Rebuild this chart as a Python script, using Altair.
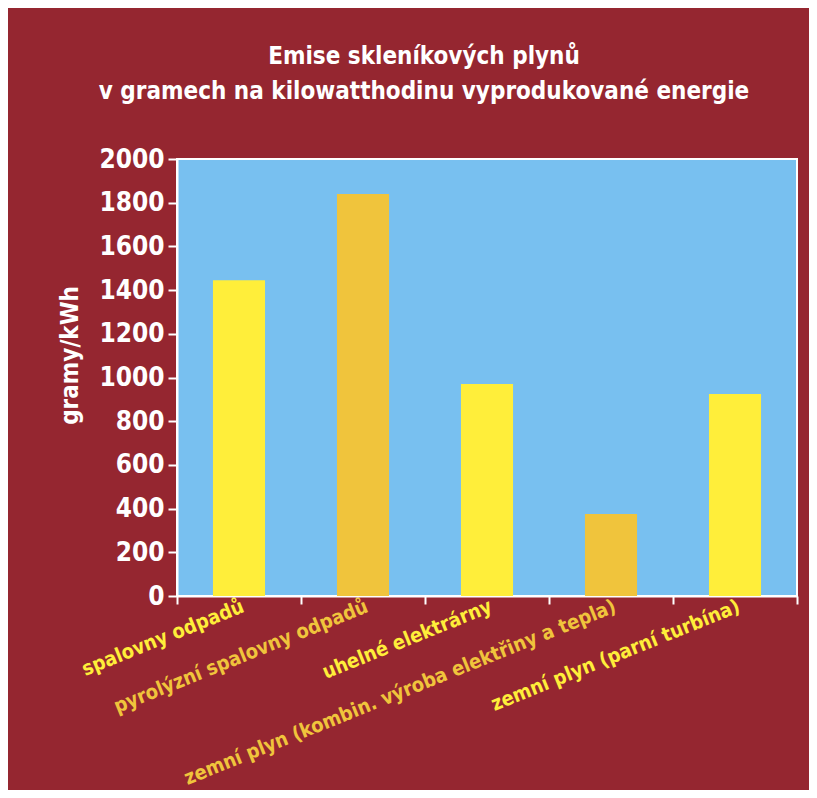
import altair as alt
import pandas as pd

categories = [
    "spalovny odpadů",
    "pyrolýzní spalovny odpadů",
    "uhelné elektrárny",
    "zemní plyn (kombin. výroba elektřiny a tepla)",
    "zemní plyn (parní turbína)",
]
values = [1445, 1840, 970, 375, 925]
palette = ["#FFEE3A", "#F0C43C", "#FFEE3A", "#F0C43C", "#FFEE3A"]
y_ticks = [0, 200, 400, 600, 800, 1000, 1200, 1400, 1600, 1800, 2000]

df = pd.DataFrame({"kategorie": categories, "hodnota": values})

FONT = "DejaVu Sans Condensed, Liberation Sans Narrow, sans-serif"
BG = "#952630"
gold_test = "datum.value == '%s' || datum.value == '%s'" % (categories[1], categories[3])

chart = (
    alt.Chart(df)
    .mark_bar(width=alt.RelativeBandSize(0.42))
    .encode(
        x=alt.X(
            "kategorie:N",
            sort=categories,
            scale=alt.Scale(paddingInner=0, paddingOuter=0),
            axis=alt.Axis(
                title=None,
                labelAngle=-22,
                labelFont=FONT,
                labelFontSize=20,
                labelFontWeight="bold",
                labelColor=alt.condition(gold_test, alt.value("#F0C43C"), alt.value("#FFEE3A")),
                labelPadding=-8,
                labelLimit=700,
                tickBand="extent",
                tickColor="white",
                tickWidth=2,
                tickSize=8,
                domainColor="white",
                domainWidth=2,
            ),
        ),
        y=alt.Y(
            "hodnota:Q",
            scale=alt.Scale(domain=[0, 2000], nice=False),
            axis=alt.Axis(
                title="gramy/kWh",
                titleFont=FONT,
                titleFontSize=24,
                titleFontWeight="bold",
                titleColor="white",
                titleX=-95,
                titleY=196,
                values=y_ticks,
                format="d",
                labelFont=FONT,
                labelFontSize=26,
                labelFontWeight="bold",
                labelColor="white",
                labelPadding=4,
                tickColor="white",
                tickWidth=2,
                tickSize=9,
                domainColor="white",
                domainWidth=2,
                grid=False,
            ),
        ),
        color=alt.Color(
            "kategorie:N",
            scale=alt.Scale(domain=categories, range=palette),
            legend=None,
        ),
    )
    .properties(
        width=620,
        height=437,
        background=BG,
        padding={"left": 169, "top": 151, "right": 12, "bottom": 194},
        autosize=alt.AutoSizeParams(type="none"),
        title=alt.TitleParams(
            text=[
                "Emise skleníkových plynů",
                "v gramech na kilowatthodinu vyprodukované energie",
            ],
            font=FONT,
            fontSize=24,
            fontWeight="bold",
            color="white",
            anchor="middle",
            dx=-63,
            offset=42,
            lineHeight=35,
        ),
    )
    .configure_view(fill="#78C0F0", stroke="white", strokeWidth=2)
)

chart.save("out.html", embed_options={"renderer": "svg", "actions": False})
